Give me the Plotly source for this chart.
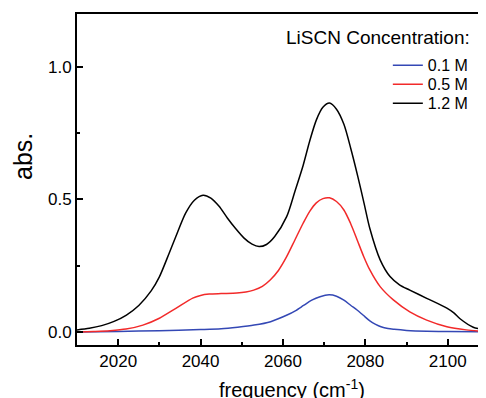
import plotly.graph_objects as go

# ---- data ----
freq_12 = [2010, 2013, 2016, 2019, 2022, 2025, 2028, 2030, 2032.4, 2034, 2036.4, 2038.5, 2040.6,
           2042.5, 2044.5, 2046.5, 2048.5, 2050.5, 2052.5, 2054.2, 2056, 2058, 2060.9, 2062.9,
           2064.9, 2066.5, 2068.1, 2069.7, 2071.3, 2073, 2074.8, 2076.5, 2078.2, 2079.7, 2081.1,
           2083.6, 2086, 2088.3, 2090.8, 2094.9, 2099.8, 2101.5, 2103, 2106.2, 2109.3]
abs_12 = [0.008, 0.014, 0.024, 0.04, 0.064, 0.10, 0.155, 0.208, 0.298, 0.36, 0.449, 0.497, 0.516,
          0.505, 0.474, 0.43, 0.39, 0.355, 0.331, 0.322, 0.33, 0.36, 0.435, 0.53,
          0.628, 0.72, 0.799, 0.847, 0.863, 0.84, 0.783, 0.69, 0.585, 0.485, 0.39,
          0.272, 0.209, 0.178, 0.158, 0.127, 0.09, 0.072, 0.05, 0.018, 0.008]

freq_05 = [2010, 2014, 2018, 2021.9, 2026, 2030, 2034, 2038.1, 2040, 2042.1, 2045, 2048.8, 2051,
           2052.9, 2055, 2056.9, 2058.9, 2060.9, 2062.9, 2064.9, 2066.5, 2068.1, 2069.7, 2071.3,
           2073, 2074.8, 2076.4, 2078, 2079.6, 2081.1, 2083.6, 2086.8, 2090.8, 2094.9, 2099.8,
           2104.5, 2109.3]
abs_05 = [0.0, 0.002, 0.005, 0.011, 0.026, 0.052, 0.089, 0.128, 0.138, 0.143, 0.145, 0.147, 0.151,
          0.158, 0.172, 0.196, 0.232, 0.284, 0.347, 0.41, 0.455, 0.487, 0.503, 0.506,
          0.492, 0.46, 0.41, 0.348, 0.285, 0.234, 0.171, 0.121, 0.076, 0.045, 0.02,
          0.008, 0.001]

freq_01 = [2010, 2020, 2030, 2040, 2045, 2049, 2053, 2057, 2061, 2063, 2065, 2067, 2069, 2071.2,
           2073, 2074.8, 2076.5, 2078, 2079.5, 2081.1, 2082.5, 2083.8, 2085.5, 2087, 2090, 2095,
           2100, 2109.3]
abs_01 = [0.0, 0.002, 0.005, 0.009, 0.012, 0.018, 0.026, 0.039, 0.064, 0.08, 0.1, 0.12, 0.133,
          0.14, 0.135, 0.12, 0.1, 0.083, 0.063, 0.042, 0.029, 0.02, 0.013, 0.01, 0.006, 0.003,
          0.002, 0.001]

series_names = ["0.1 M", "0.5 M", "1.2 M"]
series_colors = ["#3448b5", "#f22a2a", "#000000"]
legend_ids = ["legend", "legend2", "legend3"]

x_tickvals = [2020, 2040, 2060, 2080, 2100]
y_tickvals = [0.0, 0.5, 1.0]

FONT = "Liberation Sans, Arial, sans-serif"

fig = go.Figure()
for name, color, lid, xs, ys in zip(series_names, series_colors, legend_ids,
                                    [freq_01, freq_05, freq_12], [abs_01, abs_05, abs_12]):
    fig.add_trace(go.Scatter(x=xs, y=ys, mode="lines", name=name, legend=lid,
                             line=dict(color=color, width=1.5, shape="spline", smoothing=0.8)))

axis_common = dict(showgrid=False, zeroline=False, showline=True, linecolor="black", linewidth=2,
                   ticks="inside", ticklen=6, tickwidth=1.5, tickcolor="black",
                   tickfont=dict(family=FONT, size=17, color="black"))

fig.update_xaxes(range=[2010, 2109.3], tickvals=x_tickvals, mirror=True,
                 minor=dict(ticks="inside", ticklen=3, tickwidth=1.5, tickcolor="black", dtick=10,
                            tick0=2010),
                 **axis_common)
fig.update_yaxes(range=[-0.049, 1.199], tickvals=y_tickvals, tickformat=".1f",
                 minor=dict(ticks="inside", ticklen=3, tickwidth=1.5, tickcolor="black",
                            dtick=0.25, tick0=0),
                 **axis_common)

legend_style = dict(xanchor="left", yanchor="top", x=0.760,
                    font=dict(family=FONT, size=16, color="black"),
                    bgcolor="rgba(0,0,0,0)", borderwidth=0)

# the page body has an 8px margin, so the figure is 8px smaller and margins shifted
fig.update_layout(
    width=478, height=390,
    margin=dict(l=69, r=0, t=6, b=53),
    paper_bgcolor="white", plot_bgcolor="white",
    font=dict(family=FONT, color="black"),
    showlegend=True,
    legend=dict(y=0.8964, **legend_style),
    legend2=dict(y=0.839, **legend_style),
    legend3=dict(y=0.7816, **legend_style),
    annotations=[
        dict(text="LiSCN Concentration:", xref="paper", yref="paper", x=0.966, y=0.930,
             xanchor="right", yanchor="middle", showarrow=False,
             font=dict(family=FONT, size=19, color="black")),
        dict(text="abs.", xref="paper", yref="paper", x=-0.132, y=0.568, textangle=-90,
             xanchor="center", yanchor="middle", showarrow=False,
             font=dict(family=FONT, size=25, color="black")),
        dict(text="frequency (cm<sup>-1</sup>)", xref="paper", yref="paper", x=0.5245, y=-0.13,
             xanchor="center", yanchor="middle", showarrow=False,
             font=dict(family=FONT, size=20, color="black")),
    ],
)

fig.write_html("out.html")
